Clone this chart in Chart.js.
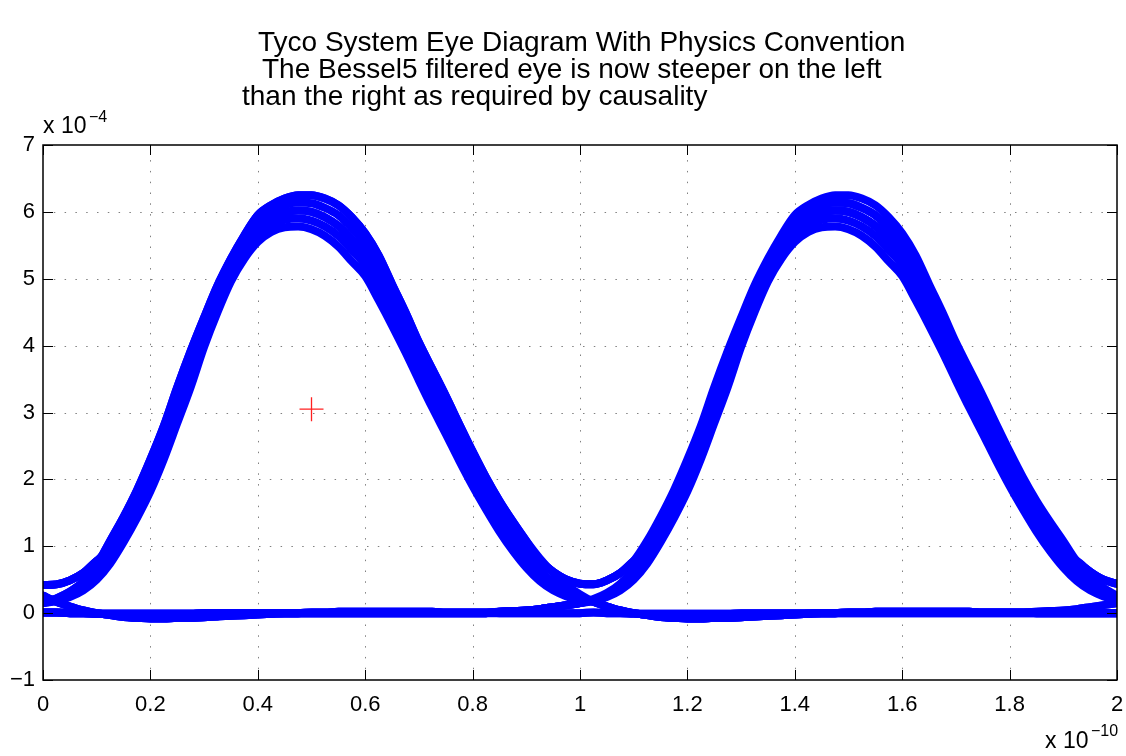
<!DOCTYPE html>
<html>
<head>
<meta charset="utf-8">
<title>Tyco System Eye Diagram</title>
<script src="https://cdn.jsdelivr.net/npm/chart.js@4/dist/chart.umd.min.js"></script>
<style>
  html, body { margin: 0; padding: 0; background: #ffffff; }
  canvas { display: block; }
</style>
</head>
<body>
<canvas id="eye" width="1126" height="756"></canvas>
<script>
// Sample instants over two unit intervals (x 1e-10 s)
const timeGrid = [0,0.025,0.05,0.075,0.1,0.125,0.15,0.175,0.2,0.225,0.25,0.275,0.3,0.325,0.35,0.375,0.4,0.425,0.45,0.475,0.5,0.525,0.55,0.575,0.6,0.625,0.65,0.675,0.7,0.725,0.75,0.775,0.8,0.825,0.85,0.875,0.9,0.925,0.95,0.975,1,
  1.025,1.05,1.075,1.1,1.125,1.15,1.175,1.2,1.225,1.25,1.275,1.3,1.325,1.35,1.375,1.4,1.425,1.45,1.475,1.5,1.525,1.55,1.575,1.6,1.625,1.65,1.675,1.7,1.725,1.75,1.775,1.8,1.825,1.85,1.875,1.9,1.925,1.95,1.975,2];

// One unit interval holding a "1" bit (x 1e-4), 41 samples each, widest/tallest first
const pulseWide       = [0.15,0.22,0.32,0.47,0.72,1.08,1.44,1.84,2.3,2.8,3.38,3.92,4.42,4.9,5.3,5.65,5.95,6.1,6.2,6.25,6.25,6.2,6.1,5.92,5.68,5.35,4.92,4.5,4.05,3.65,3.25,2.83,2.42,2.03,1.68,1.37,1.08,0.82,0.6,0.42,0.28];
const pulseWideMid    = [0.15,0.21,0.3,0.44,0.66,1.0,1.35,1.74,2.18,2.68,3.25,3.79,4.31,4.8,5.22,5.57,5.85,6.0,6.1,6.14,6.13,6.06,5.95,5.76,5.52,5.19,4.76,4.35,3.91,3.51,3.11,2.69,2.29,1.91,1.57,1.26,0.98,0.73,0.53,0.38,0.26];
const pulseMid        = [0.15,0.2,0.28,0.4,0.6,0.91,1.25,1.63,2.06,2.55,3.11,3.65,4.2,4.7,5.13,5.48,5.75,5.9,5.99,6.02,6.0,5.92,5.79,5.59,5.36,5.02,4.6,4.2,3.77,3.36,2.97,2.55,2.15,1.79,1.45,1.15,0.87,0.64,0.46,0.33,0.23];
const pulseMidNarrow  = [0.15,0.19,0.26,0.37,0.55,0.83,1.16,1.53,1.94,2.43,2.98,3.52,4.09,4.6,5.05,5.39,5.65,5.8,5.88,5.9,5.87,5.78,5.64,5.43,5.2,4.85,4.45,4.05,3.63,3.22,2.83,2.42,2.03,1.67,1.34,1.04,0.78,0.56,0.4,0.29,0.21];
const pulseNarrow     = [0.15,0.18,0.24,0.34,0.5,0.74,1.06,1.42,1.82,2.3,2.84,3.38,3.98,4.5,4.96,5.3,5.55,5.7,5.77,5.78,5.74,5.64,5.48,5.26,5.04,4.68,4.3,3.9,3.48,3.07,2.68,2.28,1.9,1.55,1.22,0.93,0.68,0.48,0.34,0.25,0.19];

// One unit interval holding a "0" bit
const zeroAfterOne    = [0.26,0.17,0.1,0.04,0,-0.03,-0.06,-0.07,-0.08,-0.08,-0.07,-0.07,-0.06,-0.05,-0.04,-0.03,-0.02,-0.01,0,0,0.01,0.01,0.02,0.02,0.02,0.02,0.02,0.02,0.02,0.02,0.01,0.01,0.01,0.01,0,0,0,0,0,0,0];
const zeroSteady      = [0.01,0.01,0,0,-0.01,-0.01,-0.01,-0.01,-0.01,-0.01,-0.01,-0.01,0,0,0,0,0,0,0,0,0,0,0,0,0,0,0,0,0,0,0,0,0,0,0,0,0,0,0,0,0];

// Edge pieces where neighbouring bits change the shape
const headAfterOne    = [0.42,0.43,0.49,0.6,0.78];            // start of a "1" that follows a "1"
const tailBeforeOne   = [0.78,0.62,0.5,0.44];                 // end of a "1" that precedes a "1"
const tailBeforeRise  = [0.02,0.03,0.04,0.06,0.09,0.12,0.15]; // end of a "0" that precedes a "1"

// Reference marker
const markerTime  = [0.5];
const markerLevel = [3.05];

// Axis ticks
const xTickValues = [0,0.2,0.4,0.6,0.8,1,1.2,1.4,1.6,1.8,2];
const xTickLabels = ['0','0.2','0.4','0.6','0.8','1','1.2','1.4','1.6','1.8','2'];
const yTickValues = [-1,0,1,2,3,4,5,6,7];
const yTickLabels = ['\u22121','0','1','2','3','4','5','6','7'];

const titleLines = [
  'Tyco System Eye Diagram With Physics Convention',
  'The Bessel5 filtered eye is now steeper on the left',
  'than the right as required by causality'
];

// ---- assemble traces from unit-interval pieces ----
function shape(base, head, tail) {
  const s = base.slice();
  if (head) head.forEach((v, i) => { s[i] = v; });
  if (tail) tail.forEach((v, i) => { s[s.length - tail.length + i] = v; });
  return s;
}
function twoUI(a, b) { return a.concat(b.slice(1)); }

const traces = [
  twoUI(shape(pulseWide), shape(zeroAfterOne)),
  twoUI(shape(zeroSteady, null, tailBeforeRise), shape(pulseMid)),
  twoUI(shape(pulseWide, null, tailBeforeOne), shape(pulseWideMid, headAfterOne)),
  twoUI(shape(pulseMid, headAfterOne), shape(zeroAfterOne, null, tailBeforeRise)),
  twoUI(shape(zeroAfterOne, null, tailBeforeRise), shape(pulseMid, null, tailBeforeOne)),
  twoUI(shape(zeroAfterOne), shape(zeroSteady)),
  twoUI(shape(zeroSteady), shape(zeroSteady)),
  twoUI(shape(pulseWideMid, headAfterOne, tailBeforeOne), shape(pulseWide, headAfterOne, tailBeforeOne)),
  twoUI(shape(pulseNarrow), shape(zeroAfterOne, null, tailBeforeRise)),
  twoUI(shape(zeroSteady, null, tailBeforeRise), shape(pulseNarrow)),
  twoUI(shape(pulseMidNarrow), shape(zeroAfterOne)),
  twoUI(shape(zeroAfterOne, null, tailBeforeRise), shape(pulseMidNarrow)),
  twoUI(shape(pulseMid, headAfterOne, tailBeforeOne), shape(pulseMid, headAfterOne)),
  twoUI(shape(zeroSteady, null, tailBeforeRise), shape(pulseWideMid, null, tailBeforeOne))
];

const FONT = '"Liberation Sans", Arial, Helvetica, sans-serif';

const datasets = traces.map(tr => ({
  type: 'line',
  data: tr.map((y, i) => ({ x: timeGrid[i], y: y })),
  borderColor: '#0000ff',
  borderWidth: 8,
  borderJoinStyle: 'round',
  borderCapStyle: 'round',
  cubicInterpolationMode: 'monotone',
  pointRadius: 0,
  fill: false,
  clip: 0
}));
datasets.push({
  type: 'scatter',
  data: markerTime.map((t, i) => ({ x: t, y: markerLevel[i] })),
  pointStyle: 'cross',
  pointRadius: 12,
  borderColor: '#ff2020',
  borderWidth: 1.3,
  showLine: false
});

// Axes frame, dotted grid, inward ticks, x labels, title and exponent labels
const matlabFrame = {
  id: 'matlabFrame',
  beforeDatasetsDraw(chart) {
    const { ctx, chartArea: a, scales: { x, y } } = chart;
    ctx.save();
    ctx.strokeStyle = '#808080';
    ctx.lineWidth = 1;
    ctx.setLineDash([1.5, 9.3]);
    xTickValues.slice(1, -1).forEach(v => {
      const px = Math.round(x.getPixelForValue(v)) + 0.5;
      ctx.beginPath(); ctx.moveTo(px, a.bottom); ctx.lineTo(px, a.top); ctx.stroke();
    });
    yTickValues.slice(1, -1).forEach(v => {
      const py = Math.round(y.getPixelForValue(v)) + 0.5;
      ctx.beginPath(); ctx.moveTo(a.left, py); ctx.lineTo(a.right, py); ctx.stroke();
    });
    ctx.restore();
  },
  afterDatasetsDraw(chart) {
    const { ctx, chartArea: a, scales: { x, y } } = chart;
    ctx.save();
    ctx.strokeStyle = '#000000';
    ctx.lineWidth = 1.5;
    ctx.setLineDash([]);
    ctx.strokeRect(a.left, a.top, a.right - a.left, a.bottom - a.top);
    const tl = 10;
    ctx.lineWidth = 1;
    xTickValues.forEach(v => {
      const px = Math.round(x.getPixelForValue(v)) + 0.5;
      ctx.beginPath(); ctx.moveTo(px, a.bottom); ctx.lineTo(px, a.bottom - tl); ctx.stroke();
      ctx.beginPath(); ctx.moveTo(px, a.top); ctx.lineTo(px, a.top + tl); ctx.stroke();
    });
    yTickValues.forEach(v => {
      const py = Math.round(y.getPixelForValue(v)) + 0.5;
      ctx.beginPath(); ctx.moveTo(a.left, py); ctx.lineTo(a.left + tl, py); ctx.stroke();
      ctx.beginPath(); ctx.moveTo(a.right, py); ctx.lineTo(a.right - tl, py); ctx.stroke();
    });

    ctx.fillStyle = '#000000';
    ctx.textBaseline = 'alphabetic';

    // x tick labels
    ctx.font = '22px ' + FONT;
    ctx.textAlign = 'center';
    xTickValues.forEach((v, i) => {
      ctx.fillText(xTickLabels[i], x.getPixelForValue(v), a.bottom + 31);
    });

    // title
    ctx.textAlign = 'left';
    ctx.font = '28px ' + FONT;
    ctx.fillText(titleLines[0], 258, 51);
    ctx.fillText(titleLines[1], 262, 78);
    ctx.fillText(titleLines[2], 242, 105);

    // exponent labels
    ctx.font = '23px ' + FONT;
    ctx.fillText('x 10', a.left, 133);
    ctx.font = '16px ' + FONT;
    ctx.fillText('\u22124', a.left + 46, 122);
    ctx.font = '23px ' + FONT;
    ctx.fillText('x 10', 1045, 748);
    ctx.font = '16px ' + FONT;
    ctx.fillText('\u221210', 1091, 736);
    ctx.restore();
  }
};

new Chart(document.getElementById('eye'), {
  type: 'line',
  data: { datasets: datasets },
  options: {
    responsive: false,
    animation: false,
    devicePixelRatio: 1,
    layout: { autoPadding: false, padding: { top: 145, right: 9, left: 0, bottom: 0 } },
    plugins: { legend: { display: false }, tooltip: { enabled: false }, title: { display: false } },
    scales: {
      x: {
        type: 'linear', min: 0, max: 2,
        afterBuildTicks(s) { s.ticks = xTickValues.map(v => ({ value: v })); },
        afterFit(s) { s.height = 76; },
        ticks: { display: false },
        grid: { display: false, drawTicks: false },
        border: { display: false }
      },
      y: {
        type: 'linear', min: -1, max: 7,
        afterBuildTicks(s) { s.ticks = yTickValues.map(v => ({ value: v })); },
        afterFit(s) { s.width = 43; s.paddingTop = 0; s.paddingBottom = 0; },
        ticks: {
          autoSkip: false, padding: 8, color: '#000000',
          font: { family: FONT, size: 22 },
          callback: (v, i) => yTickLabels[i]
        },
        grid: { display: false, drawTicks: false },
        border: { display: false }
      }
    }
  },
  plugins: [matlabFrame]
});
</script>
</body>
</html>
